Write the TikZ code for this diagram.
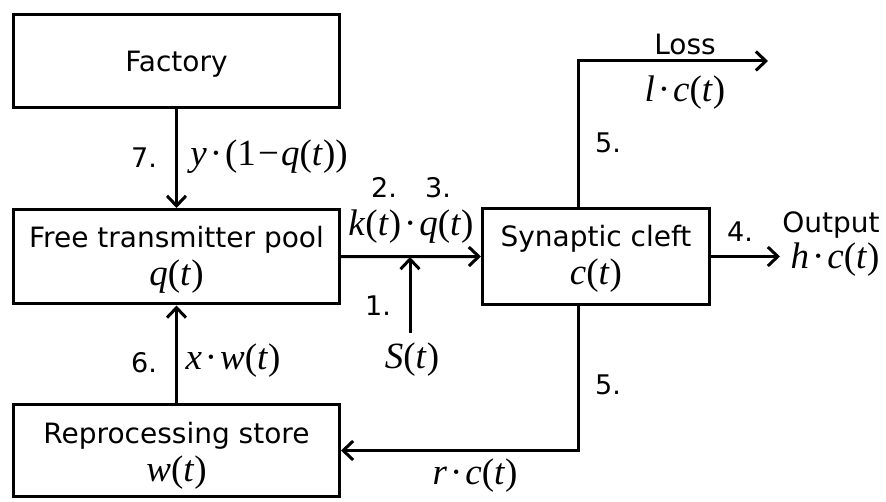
\documentclass[tikz,border=0pt]{standalone}
\usepackage{fontspec}
\setmainfont{DejaVu Sans}
\newfontfamily\tmsfont{Liberation Serif}
\usetikzlibrary{arrows.meta}
\newcommand\mth[1]{{\tmsfont\fontsize{37}{42}\selectfont #1}}
\newcommand\vi[1]{\textit{#1}}
\newcommand\mdot{\hspace{0.08em}·\hspace{0.08em}}
\newcommand\mminus{\hspace{0.06em}−\hspace{0.06em}}
\begin{document}
\begin{tikzpicture}[x=1pt,y=-1pt,
  box/.style={draw, line width=3pt, inner sep=0pt},
  arr/.style={line width=3pt, -{Straight Barb[length=10pt,width=19pt]}},
  lbl/.style={anchor=base, inner sep=0pt, font=\fontsize{28}{32}\selectfont},
  num/.style={anchor=base, inner sep=0pt, font=\fontsize{27}{31}\selectfont},
  mlbl/.style={anchor=base, inner sep=0pt}]
\useasboundingbox (0,0) rectangle (886,502);
% boxes
\node[box, minimum width=326pt, minimum height=93.5pt] (factory) at (176.5,61.25) {};
\node[box, minimum width=326pt, minimum height=94.5pt] (pool) at (176.5,256.75) {};
\node[box, minimum width=326pt, minimum height=92pt] (store) at (176.5,450.5) {};
\node[box, minimum width=227pt, minimum height=96pt] (cleft) at (596,256.5) {};
% box texts
\node[lbl] (tfac) at (176.5,72) {Factory};
\node[lbl] (tpool) at (176.5,248) {Free transmitter pool};
\node[mlbl] (qt) at (176.5,286) {\mth{\vi{q}(\vi{t})}};
\node[lbl] (tstore) at (176.5,443) {Reprocessing store};
\node[mlbl] (wt) at (176.5,481) {\mth{\vi{w}(\vi{t})}};
\node[lbl] (tcleft) at (596,247) {Synaptic cleft};
\node[mlbl] (ct) at (596,285) {\mth{\vi{c}(\vi{t})}};
% coordinates
\coordinate (sbot) at (410,333);
\coordinate (sjoin) at (410,257);
\coordinate (lossend) at (768,61);
\coordinate (outend) at (780,256.5);
% connectors
\draw[arr] (factory.south) -- (pool.north);
\draw[arr] (store.north) -- (pool.south);
\draw[arr] (pool.east) -- (cleft.west);
\draw[arr] (sbot) -- (sjoin);
\draw[arr] (cleft.east) -- (outend);
\draw[arr] ([xshift=-18pt]cleft.north) |- (lossend);
\draw[arr] ([xshift=-18pt]cleft.south) |- (store.east);
% labels
\node[num] (n7) at (144,168) {7.};
\node[mlbl] (m7) at (269,166) {\mth{\vi{y}\mdot(1\mminus\vi{q}(\vi{t}))}};
\node[num] (n2) at (384,198) {2.};
\node[num] (n3) at (438,198) {3.};
\node[mlbl] (m23) at (411,236) {\mth{\vi{k}(\vi{t})\mdot\vi{q}(\vi{t})}};
\node[num] (n1) at (378,316) {1.};
\node[mlbl] (st) at (412,369) {\mth{\vi{S}(\vi{t})}};
\node[num] (n6) at (144,373) {6.};
\node[mlbl] (m6) at (233,370) {\mth{\vi{x}\mdot\vi{w}(\vi{t})}};
\node[mlbl] (m5b) at (475,484) {\mth{\vi{r}\mdot\vi{c}(\vi{t})}};
\node[lbl] (loss) at (685,55) {Loss};
\node[mlbl] (mloss) at (685,102) {\mth{\vi{l}\mdot\vi{c}(\vi{t})}};
\node[num] (n5a) at (608,153) {5.};
\node[num] (n5b) at (608,395) {5.};
\node[num] (n4) at (740,242) {4.};
\node[lbl] (outp) at (831,233) {Output};
\node[mlbl] (mout) at (835,269) {\mth{\vi{h}\mdot\vi{c}(\vi{t})}};
\end{tikzpicture}
\end{document}
